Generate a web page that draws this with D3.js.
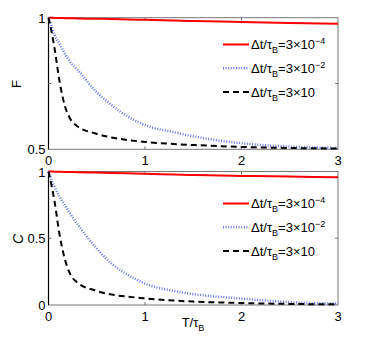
<!DOCTYPE html>
<html>
<head>
<meta charset="utf-8">
<script src="https://cdn.jsdelivr.net/npm/d3@7"></script>
<style>
  body { margin: 0; background: #fff; }
  text { font-family: "Liberation Sans", Arial, sans-serif; }
</style>
</head>
<body>
<script>
// 数据：横轴 T/τB 采样点与各曲线数值
const tValues = [0, 0.03, 0.0625, 0.115, 0.167, 0.219, 0.306, 0.479, 0.653, 0.826, 1.0, 1.3, 1.52, 2.0, 2.5, 3.0];

const fRed   = [1, 1, 0.999, 0.999, 0.998, 0.998, 0.997, 0.996, 0.995, 0.993, 0.992, 0.989, 0.987, 0.984, 0.98, 0.977];
const fBlue  = [1, 0.97, 0.935, 0.9, 0.865, 0.835, 0.8, 0.725, 0.668, 0.624, 0.592, 0.565, 0.548, 0.523, 0.51, 0.505];
const fBlack = [1, 0.95, 0.884, 0.757, 0.668, 0.62, 0.586, 0.561, 0.545, 0.535, 0.528, 0.52, 0.516, 0.509, 0.505, 0.503];

const cRed   = [1, 1, 0.999, 0.998, 0.997, 0.996, 0.995, 0.992, 0.989, 0.986, 0.983, 0.977, 0.973, 0.967, 0.962, 0.957];
const cBlue  = [1, 0.94, 0.887, 0.81, 0.75, 0.69, 0.6, 0.44, 0.31, 0.225, 0.16, 0.105, 0.08, 0.048, 0.022, 0.01];
const cBlack = [1, 0.9, 0.775, 0.525, 0.35, 0.24, 0.165, 0.11, 0.078, 0.062, 0.05, 0.033, 0.025, 0.015, 0.008, 0.005];

const xTicks = [0, 1, 2, 3];
const legendLabels = ['−4', '−2', null];

const svgWidth = 373, svgHeight = 344;
const svg = d3.select('body').append('svg')
    .attr('width', svgWidth)
    .attr('height', svgHeight);

const x = d3.scaleLinear().domain([0, 3]).range([48.5, 338]);

const seriesStyles = [
    {color: '#ff0000', width: 2, dash: null},
    {color: '#6677ee', width: 2.5, dash: '1,1.6'},
    {color: '#000000', width: 2, dash: '6,4'}
];

/**
 * 绘制一个子图
 */
const drawPanel = (p) => {
    let y = d3.scaleLinear().domain(p.yDomain).range([p.bottom, p.top]);
    let g = svg.append('g');
    let [x0, x1] = x.range();

    // 边框
    g.append('rect')
        .attr('x', x0).attr('y', p.top)
        .attr('width', x1 - x0).attr('height', p.bottom - p.top)
        .attr('fill', 'none').attr('stroke', '#777').attr('stroke-width', 1);
    g.append('line')
        .attr('x1', x0).attr('x2', x0).attr('y1', p.top).attr('y2', p.bottom)
        .attr('stroke', '#000').attr('stroke-width', 1.2);

    // 刻度线（向内）
    xTicks.slice(1, 3).forEach(t => {
        g.append('line').attr('x1', x(t)).attr('x2', x(t)).attr('y1', p.bottom).attr('y2', p.bottom - 3)
            .attr('stroke', '#777');
        g.append('line').attr('x1', x(t)).attr('x2', x(t)).attr('y1', p.top).attr('y2', p.top + 3)
            .attr('stroke', '#777');
    });
    p.yTicks.forEach(v => {
        g.append('line').attr('x1', x0).attr('x2', x0 + 3).attr('y1', y(v)).attr('y2', y(v)).attr('stroke', '#777');
        g.append('line').attr('x1', x1).attr('x2', x1 - 3).attr('y1', y(v)).attr('y2', y(v)).attr('stroke', '#777');
    });

    // 刻度标签
    xTicks.forEach(t => {
        g.append('text').attr('x', x(t)).attr('y', p.bottom + 16)
            .attr('text-anchor', 'middle').attr('font-size', 13).text(t);
    });
    p.yLabels.forEach(v => {
        g.append('text').attr('x', x0 - 3).attr('y', y(v) + 5)
            .attr('text-anchor', 'end').attr('font-size', 13).text(v);
    });

    // 曲线
    let line = d3.line().x((d, i) => x(tValues[i])).y(d => y(d)).curve(d3.curveMonotoneX);
    p.series.forEach((s, i) => {
        let st = seriesStyles[i];
        g.append('path')
            .attr('d', line(s))
            .attr('fill', 'none')
            .attr('stroke', st.color)
            .attr('stroke-width', st.width)
            .attr('stroke-dasharray', st.dash);
    });

    // 纵轴标题
    g.append('text')
        .attr('transform', `translate(${p.yTitleX},${p.yTitleY}) rotate(-90)`)
        .attr('text-anchor', 'middle')
        .attr('font-size', p.yTitleSize)
        .attr('font-style', p.yTitleStyle)
        .attr('font-family', p.yTitleFont)
        .text(p.yTitle);

    // 图例
    legendLabels.forEach((ex, i) => {
        let ly = p.legendY + i * 23.8;
        let st = seriesStyles[i];
        g.append('line')
            .attr('x1', 223).attr('x2', 249).attr('y1', ly).attr('y2', ly)
            .attr('stroke', st.color).attr('stroke-width', st.width)
            .attr('stroke-dasharray', st.dash);
        let t = g.append('text').attr('x', 251).attr('y', ly + 4.5).attr('font-size', 13);
        t.append('tspan').text('Δt/τ');
        t.append('tspan').attr('font-size', 9).attr('dy', 4).text('B');
        t.append('tspan').attr('dy', -4).text('=3×10');
        if (ex) t.append('tspan').attr('font-size', 9).attr('dy', -5).text(ex);
    });
};

drawPanel({
    top: 17.7, bottom: 149.3, yDomain: [0.5, 1],
    yTicks: [0.75], yLabels: [1, 0.5],
    series: [fRed, fBlue, fBlack],
    yTitle: 'F', yTitleX: 21, yTitleY: 84, yTitleSize: 13, yTitleStyle: 'normal', yTitleFont: null,
    legendY: 44.5
});

drawPanel({
    top: 171.5, bottom: 305, yDomain: [0, 1],
    yTicks: [0.5], yLabels: [1, 0.5, 0],
    series: [cRed, cBlue, cBlack],
    yTitle: 'C', yTitleX: 23, yTitleY: 239, yTitleSize: 14, yTitleStyle: 'italic', yTitleFont: '"DejaVu Serif", serif',
    legendY: 203.5
});

// 横轴标题
let xt = svg.append('text').attr('x', 193).attr('y', 327).attr('text-anchor', 'middle').attr('font-size', 13);
xt.append('tspan').text('T/τ');
xt.append('tspan').attr('font-size', 9).attr('dy', 4).text('B');
</script>
</body>
</html>
